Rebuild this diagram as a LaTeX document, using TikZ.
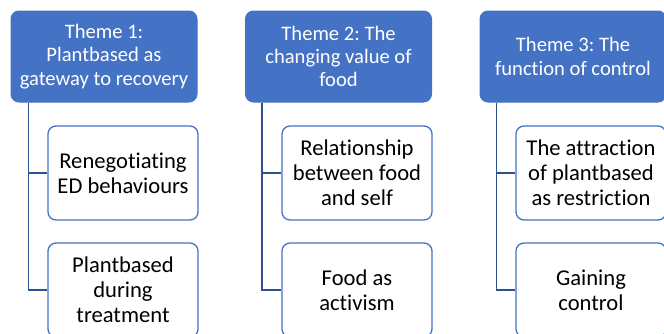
\documentclass[tikz,border=0pt]{standalone}
\usepackage{fontspec}
\setmainfont{Carlito}[Ligatures=NoCommon]
\frenchspacing
\definecolor{accent}{HTML}{4472C4}
\definecolor{linkblue}{HTML}{2F528F}
\begin{document}
\begin{tikzpicture}[x=1pt,y=-1pt,
  theme/.style={draw=accent, fill=accent, line width=1pt, rounded corners=8pt,
    minimum width=186pt, minimum height=91pt, text=white, align=center,
    inner sep=0pt, font=\fontsize{20.6}{23.3}\selectfont},
  sub/.style={draw=accent, fill=white, line width=1.3pt, rounded corners=8pt,
    minimum width=150pt, minimum height=94pt, text=black, align=center,
    inner sep=0pt, font=\fontsize{22.6}{25}\selectfont},
  link/.style={draw=linkblue, line width=1.4pt}]
\useasboundingbox (0,0) rectangle (664,333);
\begin{scope}
\clip (0,0) rectangle (664,333);
% column 1
\node[theme] (t1) at (104,56.5) {Theme 1:\\Plantbased as\\gateway to recovery};
\node[sub] (s11) at (123,173) {Renegotiating\\ED behaviours};
\node[sub] (s12) at (123,290) {Plantbased\\during\\treatment};
% column 2
\node[theme] (t2) at (338.5,56.5) {Theme 2: The\\changing value of\\food};
\node[sub] (s21) at (357,173) {Relationship\\between food\\and self};
\node[sub] (s22) at (357,290) {Food as\\activism};
% column 3
\node[theme] (t3) at (573,56.5) {Theme 3: The\\function of control};
\node[sub] (s31) at (591,173) {The attraction\\of plantbased\\as restriction};
\node[sub] (s32) at (591,290) {Gaining\\control};
% connectors
\draw[link] (t1.south west) ++(18,0) coordinate (c1) |- (s11.west);
\draw[link] (c1) |- (s12.west);
\draw[link] (t2.south west) ++(17,0) coordinate (c2) |- (s21.west);
\draw[link] (c2) |- (s22.west);
\draw[link] (t3.south west) ++(17,0) coordinate (c3) |- (s31.west);
\draw[link] (c3) |- (s32.west);
\end{scope}
\end{tikzpicture}
\end{document}
